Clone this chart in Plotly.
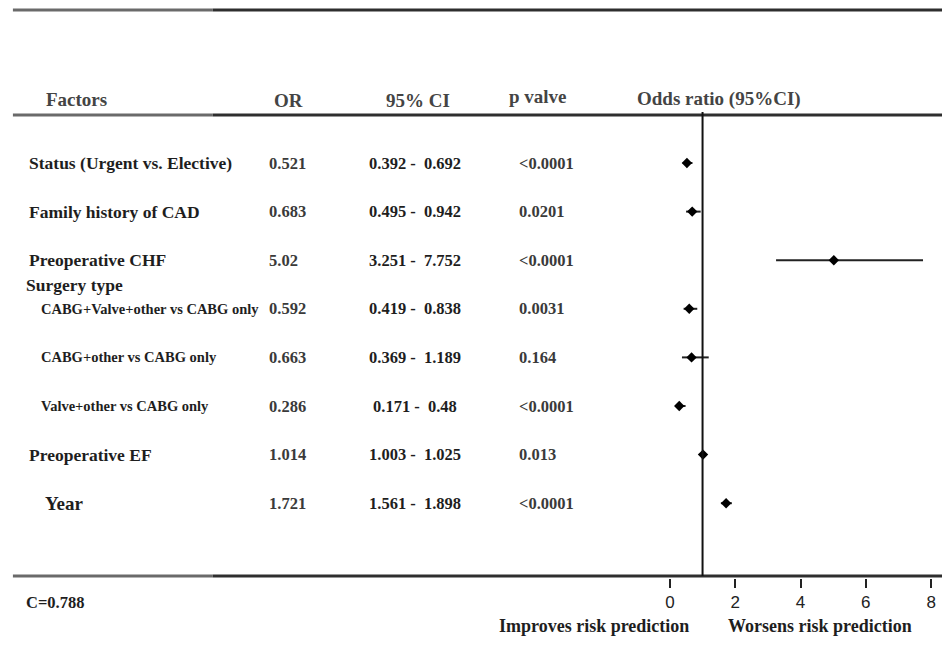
import plotly.graph_objects as go

# ---------------- data ----------------
factors = ["Status (Urgent vs. Elective)", "Family history of CAD", "Preoperative CHF",
           "CABG+Valve+other vs CABG only", "CABG+other vs CABG only", "Valve+other vs CABG only",
           "Preoperative EF", "Year"]
or_labels = ["0.521", "0.683", "5.02", "0.592", "0.663", "0.286", "1.014", "1.721"]
or_vals = [0.521, 0.683, 5.02, 0.592, 0.663, 0.286, 1.014, 1.721]
ci_low = [0.392, 0.495, 3.251, 0.419, 0.369, 0.171, 1.003, 1.561]
ci_high = [0.692, 0.942, 7.752, 0.838, 1.189, 0.48, 1.025, 1.898]
ci_low_labels = ["0.392", "0.495", "3.251", "0.419", "0.369", "0.171", "1.003", "1.561"]
ci_high_labels = ["0.692", "0.942", "7.752", "0.838", "1.189", "0.48", "1.025", "1.898"]
p_values = ["<0.0001", "0.0201", "<0.0001", "0.0031", "0.164", "<0.0001", "0.013", "<0.0001"]
subgroup = ["CABG+Valve+other vs CABG only", "CABG+other vs CABG only", "Valve+other vs CABG only"]
x_ticks = [0, 2, 4, 6, 8]

W, H = 947, 665
def px(x):
    return x / W
def py(y):
    return 1 - y / H

rows = list(range(len(factors)))
row0, step = 163.0, 48.6
y_top = (0 - row0) / step
y_bot = (H - row0) / step

serif = "Liberation Serif"
dark = "#1e1e1e"
mid = "#3a3a3a"

fig = go.Figure()
fig.add_trace(go.Scatter(
    x=or_vals, y=rows, mode="markers",
    marker=dict(symbol="diamond", size=8, color="black"),
    error_x=dict(type="data", symmetric=False,
                 array=[h - o for h, o in zip(ci_high, or_vals)],
                 arrayminus=[o - l for o, l in zip(or_vals, ci_low)],
                 thickness=2, width=0, color="#222"),
    showlegend=False, hoverinfo="skip"))

ann = []
def txt(x, y, s, size=17, anchor="left", color=dark, yref="y", bold=True):
    ann.append(dict(x=x, y=y, xref="paper", yref=yref, text=("<b>%s</b>" % s) if bold else s,
                    showarrow=False, xanchor=anchor, yanchor="middle", borderpad=0,
                    font=dict(family=serif, size=size, color=color)))

# headers
hc = "#444444"
txt(px(40), py(99), "Factors", 19, "left", hc, "paper")
txt(px(287), py(100), "OR", 19, "center", hc, "paper")
txt(px(417), py(100), "95% CI", 19, "center", hc, "paper")
txt(px(539), py(96), "p valve", 19, "center", hc, "paper")
txt(px(638), py(99), "Odds ratio (95%CI)", 19, "left", hc, "paper")

for i, f in enumerate(factors):
    if f in subgroup:
        txt(px(35), i, f, 14.5)
    elif f == "Year":
        txt(px(39), i, f, 19)
    else:
        txt(px(23), i, f, 17.5)
    txt(px(266), i, or_labels[i], 16.5, "left", mid)
    txt(px(414), i, "%s -  %s" % (ci_low_labels[i], ci_high_labels[i]), 16.5, "center")
    txt(px(518), i, p_values[i], 16.5, "left", mid)

txt(px(20), 2.5, "Surgery type", 17.5)
txt(px(20), py(602), "C=0.788", 16.5, "left", dark, "paper")
txt(px(595), py(626), "Improves risk prediction", 18, "center", dark, "paper")
txt(px(824), py(626), "Worsens risk prediction", 18, "center", dark, "paper")

shapes = []
for yy in (10, 115, 576):
    shapes.append(dict(type="line", xref="paper", yref="paper", x0=px(8), x1=px(210),
                       y0=py(yy), y1=py(yy), line=dict(color="#6a6a6a", width=3)))
    shapes.append(dict(type="line", xref="paper", yref="paper", x0=px(210), x1=1,
                       y0=py(yy), y1=py(yy), line=dict(color="#2e2e2e", width=3)))
shapes.append(dict(type="line", xref="x", yref="paper", x0=1, x1=1, y0=py(112), y1=py(576),
                   line=dict(color="#111", width=2)))

fig.update_layout(
    width=W, height=H, margin=dict(l=0, r=0, t=0, b=0),
    paper_bgcolor="white", plot_bgcolor="white",
    annotations=ann, shapes=shapes,
    xaxis=dict(domain=[px(672), px(936)], range=[0, 8], tickvals=x_ticks,
               anchor="free", position=py(578), side="bottom",
               showgrid=False, zeroline=False, showline=False,
               ticks="outside", ticklen=9, tickwidth=1.5, tickcolor="#222",
               tickfont=dict(family="Liberation Sans", size=17, color="#222")),
    yaxis=dict(domain=[0, 1], range=[y_bot, y_top], visible=False,
               showgrid=False, zeroline=False),
)

fig.write_html("out.html", config={"displayModeBar": False},
               post_script="document.body.style.margin='0';document.body.style.overflow='hidden';")
